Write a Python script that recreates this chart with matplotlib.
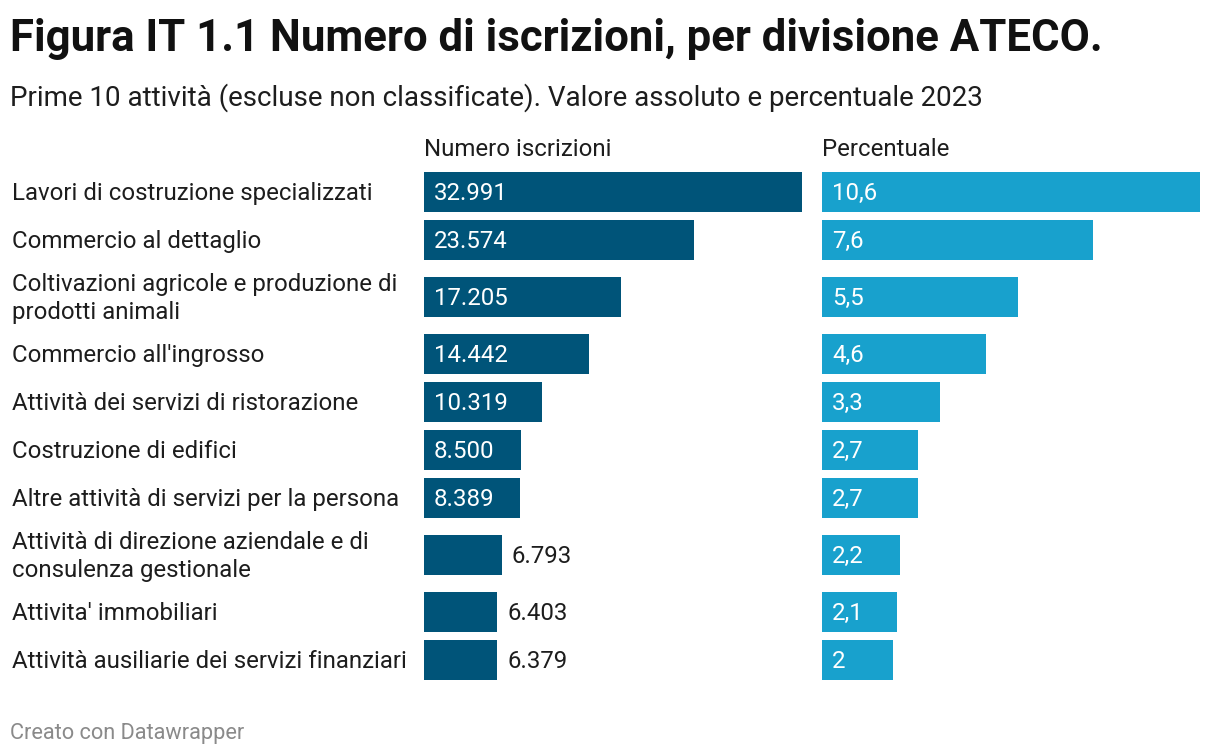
import matplotlib.pyplot as plt
import numpy as np

plt.rcParams['font.family'] = ['Roboto', 'DejaVu Sans']

categorie = [
    'Lavori di costruzione specializzati',
    'Commercio al dettaglio',
    'Coltivazioni agricole e produzione di\nprodotti animali',
    "Commercio all'ingrosso",
    'Attività dei servizi di ristorazione',
    'Costruzione di edifici',
    'Altre attività di servizi per la persona',
    'Attività di direzione aziendale e di\nconsulenza gestionale',
    "Attivita' immobiliari",
    'Attività ausiliarie dei servizi finanziari',
]
iscrizioni = [32991, 23574, 17205, 14442, 10319, 8500, 8389, 6793, 6403, 6379]
percentuale = [10.6, 7.6, 5.5, 4.6, 3.3, 2.7, 2.7, 2.2, 2.1, 2.0]

W, H = 1220, 756
BLU_SCURO = '#005479'
BLU_CHIARO = '#18a1cd'
TESTO = '#1d1d1d'
FS = 17.3

# row heights in pixels: taller for two-line labels
altezze = np.array([66 if '\n' in c else 48 for c in categorie])
centri = 168 + np.cumsum(altezze) - altezze / 2


def fmt_num(v):
    return f'{v:,}'.replace(',', '.')


def fmt_pct(v):
    s = f'{v:.1f}'.replace('.', ',')
    return s[:-2] if s.endswith(',0') else s


fig = plt.figure(figsize=(W / 100, H / 100), dpi=100)
fig.patch.set_facecolor('white')

fig.text(10 / W, 1 - 39 / H, 'Figura IT 1.1 Numero di iscrizioni, per divisione ATECO.',
         fontsize=31.5, fontweight='bold', color='#111111', va='center')
fig.text(10 / W, 1 - 98 / H,
         'Prime 10 attività (escluse non classificate). Valore assoluto e percentuale 2023',
         fontsize=20, color=TESTO, va='center')
fig.text(10 / W, 1 - 734 / H, 'Creato con Datawrapper', fontsize=15.7, color='#8a8a8a', va='center')

for c, y in zip(categorie, centri):
    fig.text(12 / W, 1 - (y + 1.5) / H, c, fontsize=FS, color=TESTO, va='center',
             linespacing=1.27)

pannelli = [
    (424, 'Numero iscrizioni', iscrizioni, BLU_SCURO, fmt_num),
    (822, 'Percentuale', percentuale, BLU_CHIARO, fmt_pct),
]
larg = 378
for x0, titolo, valori, colore, fmt in pannelli:
    ax = fig.add_axes([x0 / W, 0, larg / W, 1])
    ax.set_xlim(0, max(valori))
    ax.set_ylim(H, 0)
    ax.axis('off')
    ax.barh(centri, valori, height=40, color=colore)
    fig.text(x0 / W, 1 - 149 / H, titolo, fontsize=FS, color=TESTO, va='center')
    for v, y in zip(valori, centri):
        etichetta = fmt(v)
        px = v / max(valori) * larg
        # label goes inside the bar only when it fits
        if px > len(etichetta) * 12.5 + 20:
            ax.annotate(etichetta, (0, y + 1.5), xytext=(10, 0), textcoords='offset pixels',
                        color='white', fontsize=FS, va='center')
        else:
            ax.annotate(etichetta, (v, y + 1.5), xytext=(10, 0), textcoords='offset pixels',
                        color=TESTO, fontsize=FS, va='center')

fig.savefig('out.png', dpi=100)
